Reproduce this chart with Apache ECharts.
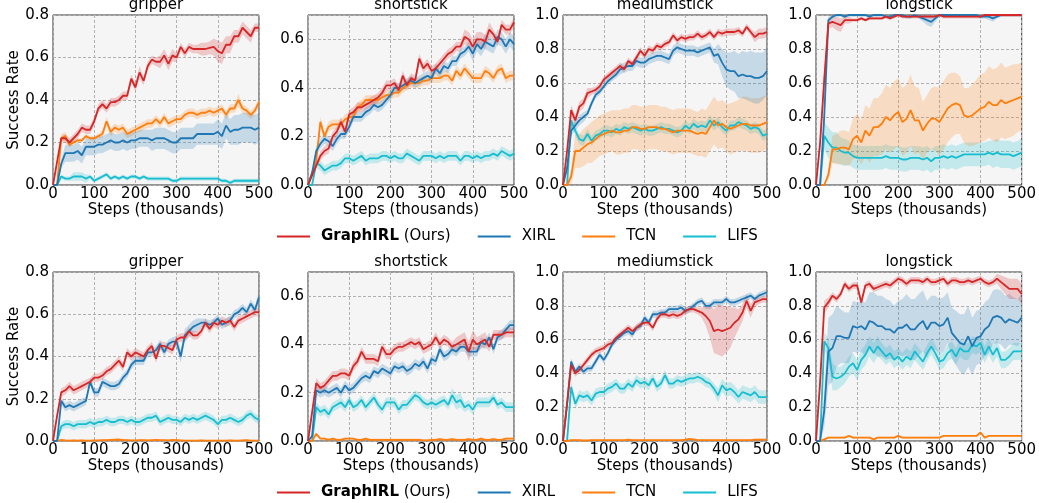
<!DOCTYPE html>
<html>
<head>
<meta charset="utf-8">
<script src="https://cdn.jsdelivr.net/npm/echarts@6/dist/echarts.min.js"></script>
<style>
html, body { margin: 0; padding: 0; background: #fff; }
#chart { width: 1039px; height: 503px; }
</style>
</head>
<body>
<div id="chart"></div>
<script>
// x values (thousands of steps)
var steps = [0,10,20,30,40,50,60,70,80,90,100,110,120,130,140,150,160,170,180,190,200,210,220,230,240,250,260,270,280,290,300,310,320,330,340,350,360,370,380,390,400,410,420,430,440,450,460,470,480,490,500];

// ---- top row ----
var topGripperGraphirl = [0,0.11,0.22,0.22,0.20,0.22,0.24,0.27,0.26,0.26,0.30,0.36,0.38,0.36,0.39,0.39,0.40,0.42,0.42,0.50,0.46,0.53,0.49,0.56,0.59,0.58,0.58,0.61,0.57,0.61,0.60,0.65,0.62,0.65,0.64,0.64,0.64,0.64,0.645,0.65,0.63,0.62,0.66,0.66,0.70,0.70,0.74,0.72,0.70,0.74,0.74];
var topGripperGraphirlSd = [0,0.01,0.01,0.02,0.02,0.02,0.02,0.02,0.02,0.02,0.02,0.02,0.02,0.02,0.02,0.02,0.02,0.02,0.02,0.02,0.02,0.03,0.02,0.02,0.02,0.02,0.03,0.03,0.03,0.03,0.02,0.02,0.02,0.02,0.02,0.02,0.03,0.03,0.03,0.04,0.05,0.05,0.04,0.04,0.03,0.03,0.03,0.03,0.03,0.02,0.02];
var topGripperXirl = [0,0,0.10,0.15,0.15,0.15,0.16,0.14,0.18,0.18,0.18,0.19,0.19,0.20,0.21,0.20,0.20,0.21,0.20,0.21,0.21,0.22,0.22,0.22,0.21,0.22,0.22,0.22,0.21,0.20,0.20,0.22,0.22,0.22,0.22,0.24,0.24,0.24,0.24,0.24,0.25,0.23,0.28,0.25,0.26,0.26,0.27,0.27,0.27,0.26,0.27];
var topGripperXirlSd = [0,0,0.02,0.04,0.04,0.04,0.04,0.04,0.04,0.04,0.04,0.04,0.04,0.04,0.04,0.04,0.04,0.04,0.04,0.04,0.04,0.04,0.04,0.04,0.05,0.05,0.05,0.05,0.05,0.05,0.05,0.05,0.05,0.05,0.05,0.05,0.05,0.05,0.05,0.05,0.06,0.06,0.06,0.06,0.07,0.07,0.07,0.07,0.07,0.07,0.07];
var topGripperTcn = [0,0,0.22,0.23,0.19,0.20,0.21,0.21,0.23,0.22,0.22,0.23,0.24,0.30,0.25,0.27,0.26,0.27,0.24,0.25,0.26,0.27,0.28,0.29,0.29,0.31,0.29,0.32,0.29,0.30,0.31,0.31,0.33,0.34,0.34,0.33,0.34,0.34,0.35,0.34,0.35,0.36,0.33,0.36,0.36,0.40,0.36,0.35,0.33,0.35,0.39];
var topGripperTcnSd = [0,0,0.02,0.02,0.01,0.01,0.01,0.01,0.01,0.01,0.01,0.01,0.02,0.02,0.02,0.02,0.02,0.02,0.02,0.02,0.02,0.02,0.02,0.02,0.02,0.02,0.02,0.02,0.02,0.02,0.02,0.02,0.02,0.02,0.02,0.02,0.02,0.02,0.02,0.02,0.02,0.02,0.02,0.02,0.02,0.03,0.02,0.02,0.02,0.02,0.02];
var topGripperLifs = [0,0,0.04,0.03,0.03,0.04,0.04,0.04,0.03,0.04,0.02,0.03,0.04,0.05,0.03,0.04,0.03,0.04,0.03,0.04,0.04,0.03,0.04,0.03,0.03,0.03,0.03,0.03,0.03,0.02,0.02,0.03,0.03,0.03,0.03,0.03,0.03,0.03,0.03,0.03,0.03,0.02,0.02,0.01,0.02,0.02,0.02,0.02,0.02,0.02,0.02];
var topGripperLifsSd = [0,0,0.01,0.01,0.01,0.02,0.02,0.02,0.02,0.01,0.01,0.01,0.01,0.01,0.01,0.01,0.01,0.01,0.01,0.01,0.01,0.01,0.01,0.01,0.01,0.01,0.01,0.01,0.01,0.01,0.01,0.01,0.01,0.01,0.01,0.01,0.01,0.01,0.01,0.01,0.01,0.01,0.01,0.01,0.01,0.01,0.01,0.01,0.01,0.01,0.01];

var topShortGraphirl = [0,0.04,0.08,0.12,0.14,0.15,0.20,0.22,0.26,0.22,0.29,0.30,0.32,0.32,0.33,0.34,0.35,0.36,0.38,0.41,0.41,0.42,0.39,0.45,0.41,0.44,0.43,0.52,0.48,0.50,0.47,0.48,0.50,0.52,0.54,0.55,0.57,0.57,0.61,0.60,0.57,0.60,0.60,0.59,0.64,0.62,0.59,0.66,0.64,0.64,0.67];
var topShortGraphirlSd = [0,0.01,0.01,0.02,0.02,0.02,0.02,0.02,0.02,0.02,0.02,0.02,0.02,0.02,0.02,0.02,0.02,0.02,0.02,0.02,0.02,0.02,0.02,0.02,0.02,0.02,0.02,0.02,0.02,0.02,0.02,0.02,0.02,0.02,0.02,0.02,0.02,0.02,0.03,0.03,0.03,0.03,0.03,0.03,0.03,0.02,0.02,0.02,0.02,0.02,0.02];
var topShortXirl = [0,0.05,0.14,0.17,0.19,0.18,0.16,0.19,0.21,0.21,0.24,0.28,0.28,0.28,0.30,0.31,0.33,0.32,0.33,0.35,0.37,0.40,0.40,0.41,0.42,0.43,0.42,0.43,0.44,0.45,0.44,0.48,0.46,0.49,0.48,0.51,0.51,0.54,0.55,0.57,0.54,0.58,0.56,0.59,0.58,0.57,0.61,0.60,0.57,0.60,0.58];
var topShortXirlSd = [0,0.01,0.02,0.02,0.02,0.02,0.02,0.02,0.02,0.02,0.02,0.02,0.02,0.02,0.02,0.02,0.02,0.02,0.02,0.02,0.02,0.02,0.02,0.02,0.02,0.02,0.02,0.02,0.02,0.02,0.02,0.02,0.02,0.02,0.02,0.02,0.02,0.02,0.02,0.02,0.03,0.03,0.03,0.03,0.03,0.03,0.03,0.03,0.03,0.03,0.03];
var topShortTcn = [0,0.05,0.10,0.26,0.20,0.24,0.25,0.25,0.25,0.27,0.28,0.28,0.32,0.33,0.35,0.35,0.35,0.35,0.36,0.37,0.37,0.38,0.38,0.40,0.41,0.42,0.42,0.42,0.43,0.43,0.44,0.44,0.44,0.45,0.45,0.43,0.47,0.45,0.48,0.46,0.44,0.44,0.44,0.47,0.46,0.44,0.47,0.48,0.44,0.45,0.45];
var topShortTcnSd = [0,0.01,0.02,0.02,0.02,0.02,0.02,0.02,0.02,0.02,0.02,0.02,0.02,0.02,0.02,0.02,0.02,0.02,0.02,0.02,0.02,0.02,0.02,0.02,0.02,0.02,0.02,0.02,0.02,0.02,0.02,0.02,0.02,0.02,0.02,0.02,0.02,0.02,0.02,0.02,0.02,0.02,0.02,0.02,0.02,0.02,0.02,0.02,0.02,0.02,0.02];
var topShortLifs = [0,0,0.09,0.08,0.06,0.07,0.08,0.08,0.09,0.11,0.11,0.10,0.11,0.12,0.10,0.11,0.11,0.11,0.12,0.12,0.11,0.12,0.11,0.11,0.13,0.12,0.11,0.10,0.12,0.12,0.12,0.11,0.12,0.11,0.12,0.12,0.12,0.10,0.12,0.12,0.11,0.12,0.11,0.12,0.12,0.13,0.12,0.14,0.13,0.12,0.13];
var topShortLifsSd = [0,0,0.02,0.02,0.02,0.02,0.02,0.02,0.02,0.02,0.02,0.02,0.02,0.02,0.02,0.02,0.02,0.02,0.02,0.02,0.02,0.02,0.02,0.02,0.02,0.02,0.02,0.02,0.02,0.02,0.02,0.02,0.02,0.02,0.02,0.02,0.02,0.02,0.02,0.02,0.02,0.02,0.02,0.02,0.02,0.02,0.02,0.02,0.02,0.02,0.02];

var topMediumGraphirl = [0,0.20,0.44,0.38,0.46,0.48,0.54,0.55,0.56,0.58,0.62,0.64,0.66,0.68,0.70,0.68,0.73,0.71,0.75,0.79,0.76,0.80,0.79,0.82,0.81,0.83,0.84,0.88,0.85,0.87,0.86,0.87,0.87,0.89,0.87,0.88,0.90,0.87,0.90,0.89,0.90,0.90,0.90,0.91,0.89,0.93,0.90,0.87,0.89,0.89,0.90];
var topMediumGraphirlSd = [0,0.02,0.03,0.03,0.03,0.03,0.03,0.02,0.02,0.02,0.02,0.02,0.02,0.02,0.02,0.02,0.02,0.02,0.02,0.02,0.02,0.02,0.02,0.02,0.02,0.02,0.02,0.02,0.02,0.02,0.02,0.02,0.02,0.02,0.02,0.02,0.02,0.02,0.02,0.02,0.02,0.02,0.02,0.02,0.02,0.02,0.02,0.03,0.03,0.03,0.03];
var topMediumXirl = [0,0.10,0.32,0.35,0.38,0.40,0.42,0.48,0.53,0.55,0.58,0.61,0.63,0.65,0.68,0.69,0.70,0.70,0.73,0.72,0.72,0.74,0.75,0.76,0.76,0.75,0.74,0.79,0.81,0.80,0.79,0.79,0.79,0.78,0.79,0.80,0.81,0.76,0.77,0.72,0.68,0.67,0.67,0.64,0.65,0.64,0.64,0.63,0.63,0.64,0.67];
var topMediumXirlSd = [0,0.02,0.03,0.03,0.03,0.03,0.02,0.02,0.02,0.02,0.02,0.02,0.02,0.02,0.03,0.03,0.03,0.03,0.03,0.03,0.03,0.03,0.03,0.03,0.03,0.03,0.03,0.03,0.03,0.03,0.03,0.03,0.03,0.03,0.03,0.03,0.03,0.04,0.06,0.08,0.10,0.11,0.12,0.13,0.14,0.14,0.15,0.15,0.15,0.14,0.14];
var topMediumTcn = [0,0,0.05,0.20,0.20,0.22,0.24,0.25,0.27,0.29,0.30,0.31,0.32,0.31,0.31,0.32,0.32,0.34,0.34,0.33,0.33,0.34,0.34,0.34,0.33,0.33,0.32,0.31,0.32,0.32,0.32,0.32,0.31,0.30,0.31,0.30,0.34,0.38,0.35,0.36,0.34,0.33,0.34,0.35,0.36,0.36,0.35,0.35,0.35,0.36,0.37];
var topMediumTcnSd = [0,0,0.05,0.10,0.10,0.11,0.11,0.12,0.12,0.12,0.12,0.12,0.12,0.13,0.13,0.13,0.13,0.13,0.13,0.13,0.13,0.13,0.13,0.13,0.13,0.13,0.13,0.13,0.13,0.13,0.13,0.13,0.13,0.13,0.14,0.14,0.14,0.14,0.14,0.14,0.14,0.15,0.15,0.15,0.16,0.16,0.16,0.16,0.16,0.16,0.16];
var topMediumLifs = [0,0,0.38,0.32,0.27,0.26,0.30,0.26,0.29,0.30,0.32,0.32,0.31,0.33,0.32,0.34,0.33,0.34,0.33,0.32,0.33,0.32,0.32,0.33,0.34,0.33,0.33,0.32,0.31,0.32,0.35,0.33,0.36,0.34,0.35,0.34,0.38,0.35,0.37,0.34,0.32,0.35,0.35,0.37,0.36,0.35,0.33,0.34,0.33,0.29,0.30];
var topMediumLifsSd = [0,0,0.03,0.03,0.03,0.03,0.03,0.03,0.03,0.03,0.03,0.03,0.03,0.03,0.03,0.03,0.03,0.03,0.03,0.03,0.03,0.03,0.03,0.03,0.03,0.03,0.03,0.03,0.03,0.03,0.03,0.03,0.03,0.03,0.03,0.03,0.03,0.03,0.03,0.03,0.03,0.03,0.03,0.03,0.03,0.03,0.03,0.03,0.03,0.03,0.03];

var topLongGraphirl = [0,0.25,0.62,0.95,0.96,0.95,0.94,0.97,0.97,0.97,0.97,0.98,0.97,0.98,0.98,0.98,0.98,0.99,0.98,0.99,1.0,0.99,0.99,0.99,0.99,0.99,0.99,0.99,0.99,0.99,1.0,0.99,0.99,0.99,0.99,0.99,0.99,0.99,0.99,0.99,0.99,1.0,1.0,1.0,1.0,1.0,1.0,1.0,1.0,1.0,1.0];
var topLongGraphirlSd = [0,0.05,0.06,0.03,0.03,0.04,0.04,0.02,0.02,0.01,0.01,0.01,0.01,0.01,0.01,0.01,0.01,0.01,0.01,0.01,0.01,0.01,0.01,0.01,0.01,0.01,0.01,0.01,0.01,0.01,0.01,0.01,0.01,0.01,0.01,0.01,0.01,0.01,0.01,0.01,0.01,0.01,0.01,0.01,0.01,0.01,0.01,0.01,0.01,0.01,0.01];
var topLongXirl = [0,0,0.40,0.97,0.99,1.0,1.0,0.99,1.0,1.0,1.0,1.0,1.0,0.99,1.0,1.0,1.0,0.99,0.99,1.0,1.0,1.0,0.99,0.99,1.0,0.99,0.98,0.97,0.96,0.98,1.0,1.0,1.0,1.0,1.0,1.0,1.0,1.0,1.0,1.0,0.99,0.99,0.99,0.98,0.99,1.0,1.0,1.0,1.0,1.0,1.0];
var topLongXirlSd = [0,0,0.05,0.02,0.01,0.01,0.01,0.01,0.01,0.01,0.01,0.01,0.01,0.01,0.01,0.01,0.01,0.01,0.01,0.01,0.01,0.01,0.01,0.01,0.01,0.01,0.02,0.03,0.03,0.02,0.01,0.01,0.01,0.01,0.01,0.01,0.01,0.01,0.01,0.01,0.01,0.01,0.02,0.02,0.01,0.01,0.01,0.01,0.01,0.01,0.01];
var topLongTcn = [0,0,0,0.06,0.21,0.21,0.22,0.22,0.21,0.27,0.29,0.25,0.32,0.29,0.34,0.34,0.36,0.40,0.38,0.41,0.43,0.37,0.39,0.44,0.38,0.38,0.32,0.36,0.39,0.39,0.37,0.41,0.45,0.47,0.48,0.47,0.41,0.40,0.41,0.43,0.45,0.46,0.49,0.47,0.47,0.50,0.48,0.49,0.50,0.51,0.52];
var topLongTcnSd = [0,0,0,0.03,0.08,0.09,0.10,0.10,0.10,0.12,0.13,0.13,0.15,0.16,0.17,0.17,0.18,0.19,0.19,0.20,0.20,0.20,0.20,0.21,0.20,0.19,0.17,0.17,0.18,0.19,0.20,0.20,0.20,0.19,0.18,0.17,0.16,0.17,0.18,0.19,0.20,0.20,0.21,0.21,0.22,0.22,0.21,0.21,0.21,0.20,0.20];
var topLongLifs = [0,0,0.29,0.25,0.22,0.22,0.20,0.19,0.19,0.17,0.16,0.16,0.16,0.16,0.16,0.16,0.16,0.17,0.16,0.16,0.16,0.15,0.15,0.16,0.16,0.16,0.15,0.16,0.14,0.16,0.16,0.17,0.16,0.17,0.16,0.17,0.18,0.18,0.18,0.18,0.18,0.18,0.19,0.18,0.19,0.18,0.18,0.18,0.17,0.18,0.19];
var topLongLifsSd = [0,0,0.08,0.09,0.09,0.09,0.08,0.08,0.07,0.07,0.07,0.07,0.07,0.07,0.07,0.07,0.07,0.07,0.07,0.07,0.07,0.07,0.07,0.07,0.07,0.07,0.07,0.07,0.07,0.07,0.07,0.07,0.07,0.07,0.07,0.07,0.07,0.07,0.07,0.07,0.07,0.07,0.07,0.08,0.08,0.08,0.08,0.08,0.08,0.08,0.08];

// ---- bottom row ----
var botGripperGraphirl = [0,0.12,0.23,0.24,0.26,0.24,0.25,0.26,0.27,0.28,0.30,0.30,0.31,0.33,0.34,0.36,0.38,0.35,0.42,0.40,0.42,0.41,0.40,0.43,0.45,0.39,0.45,0.45,0.44,0.43,0.48,0.49,0.49,0.52,0.50,0.50,0.52,0.56,0.53,0.56,0.55,0.57,0.56,0.57,0.54,0.57,0.58,0.59,0.60,0.61,0.61];
var botGripperGraphirlSd = [0,0.01,0.02,0.02,0.02,0.02,0.02,0.02,0.02,0.02,0.02,0.02,0.02,0.02,0.02,0.02,0.02,0.02,0.02,0.02,0.02,0.02,0.02,0.02,0.02,0.02,0.02,0.02,0.02,0.02,0.02,0.02,0.02,0.02,0.02,0.02,0.02,0.02,0.02,0.02,0.02,0.02,0.02,0.02,0.02,0.02,0.02,0.02,0.02,0.02,0.02];
var botGripperXirl = [0,0,0.19,0.16,0.17,0.16,0.17,0.18,0.19,0.28,0.23,0.23,0.28,0.27,0.26,0.26,0.27,0.30,0.32,0.36,0.38,0.38,0.38,0.42,0.42,0.43,0.46,0.42,0.46,0.47,0.47,0.40,0.50,0.52,0.54,0.55,0.56,0.56,0.55,0.56,0.58,0.55,0.56,0.57,0.60,0.61,0.63,0.61,0.65,0.62,0.68];
var botGripperXirlSd = [0,0,0.02,0.02,0.02,0.02,0.02,0.02,0.02,0.02,0.02,0.02,0.02,0.02,0.02,0.02,0.02,0.02,0.02,0.02,0.02,0.02,0.02,0.02,0.02,0.02,0.02,0.02,0.02,0.02,0.03,0.03,0.03,0.03,0.03,0.03,0.02,0.02,0.02,0.02,0.02,0.02,0.02,0.02,0.02,0.02,0.02,0.02,0.02,0.02,0.03];
var botGripperTcn = [0,0,0.005,0.003,0.002,0.003,0.002,0.003,0.002,0.002,0.003,0.003,0.004,0.004,0.005,0.006,0.007,0.005,0.004,0.003,0.003,0.004,0.004,0.003,0.004,0.005,0.004,0.004,0.003,0.005,0.004,0.003,0.002,0.002,0.002,0.002,0.003,0.002,0.002,0.002,0.002,0.002,0.002,0.003,0.002,0.002,0.003,0.004,0.002,0.002,0.002];
var botGripperTcnSd = [0,0,0.004,0.004,0.004,0.004,0.004,0.004,0.004,0.004,0.004,0.004,0.004,0.004,0.004,0.004,0.004,0.004,0.004,0.004,0.004,0.004,0.004,0.004,0.004,0.004,0.004,0.004,0.004,0.004,0.004,0.004,0.004,0.004,0.004,0.004,0.004,0.004,0.004,0.004,0.004,0.004,0.004,0.004,0.004,0.004,0.004,0.004,0.004,0.004,0.004];
var botGripperLifs = [0,0,0.07,0.08,0.08,0.07,0.08,0.08,0.08,0.09,0.08,0.09,0.09,0.10,0.09,0.09,0.10,0.10,0.09,0.10,0.09,0.09,0.10,0.11,0.11,0.12,0.09,0.10,0.11,0.10,0.10,0.09,0.11,0.10,0.11,0.10,0.11,0.12,0.11,0.10,0.08,0.10,0.10,0.11,0.10,0.09,0.10,0.12,0.13,0.11,0.10];
var botGripperLifsSd = [0,0,0.02,0.02,0.02,0.02,0.02,0.02,0.02,0.02,0.02,0.02,0.02,0.02,0.02,0.02,0.02,0.02,0.02,0.02,0.02,0.02,0.02,0.02,0.02,0.02,0.02,0.02,0.02,0.02,0.02,0.02,0.02,0.02,0.02,0.02,0.02,0.02,0.02,0.02,0.02,0.02,0.02,0.02,0.02,0.02,0.02,0.02,0.02,0.02,0.02];

var botShortGraphirl = [0,0.12,0.24,0.22,0.23,0.25,0.27,0.27,0.28,0.28,0.27,0.31,0.33,0.37,0.34,0.34,0.34,0.33,0.39,0.36,0.36,0.38,0.39,0.39,0.40,0.41,0.40,0.41,0.38,0.39,0.40,0.43,0.40,0.42,0.41,0.39,0.40,0.41,0.42,0.37,0.42,0.40,0.41,0.42,0.39,0.44,0.44,0.44,0.45,0.45,0.45];
var botShortGraphirlSd = [0,0.01,0.02,0.02,0.02,0.02,0.02,0.02,0.02,0.02,0.02,0.02,0.02,0.02,0.02,0.02,0.02,0.02,0.02,0.02,0.02,0.02,0.02,0.02,0.02,0.02,0.02,0.02,0.02,0.02,0.02,0.02,0.02,0.02,0.02,0.02,0.03,0.03,0.03,0.04,0.04,0.03,0.03,0.03,0.02,0.02,0.02,0.02,0.02,0.02,0.02];
var botShortXirl = [0,0.02,0.21,0.20,0.21,0.20,0.21,0.22,0.20,0.23,0.21,0.22,0.24,0.26,0.27,0.26,0.29,0.28,0.30,0.29,0.28,0.31,0.30,0.31,0.29,0.30,0.32,0.31,0.33,0.30,0.34,0.33,0.38,0.35,0.36,0.38,0.37,0.39,0.39,0.37,0.37,0.37,0.41,0.40,0.43,0.38,0.43,0.44,0.46,0.48,0.48];
var botShortXirlSd = [0,0.01,0.02,0.02,0.02,0.02,0.02,0.02,0.02,0.02,0.02,0.02,0.02,0.02,0.02,0.02,0.02,0.02,0.02,0.02,0.02,0.02,0.02,0.02,0.02,0.02,0.02,0.02,0.02,0.02,0.02,0.02,0.02,0.02,0.02,0.02,0.02,0.02,0.02,0.02,0.02,0.02,0.02,0.02,0.02,0.02,0.02,0.02,0.02,0.02,0.02];
var botShortTcn = [0,0,0.03,0.01,0.01,0.005,0.01,0.005,0.005,0.01,0.01,0.01,0.005,0.005,0.01,0.005,0.005,0.005,0.005,0.005,0.005,0.005,0.005,0.005,0.005,0.005,0.005,0.005,0.003,0.003,0.005,0.005,0.008,0.005,0.005,0.008,0.005,0.005,0.005,0.008,0.005,0.005,0.01,0.005,0.005,0.008,0.005,0.005,0.01,0.01,0.01];
var botShortTcnSd = [0,0,0.005,0.005,0.005,0.005,0.005,0.005,0.005,0.005,0.005,0.005,0.005,0.005,0.005,0.005,0.005,0.005,0.005,0.005,0.005,0.005,0.005,0.005,0.005,0.005,0.005,0.005,0.005,0.005,0.005,0.005,0.005,0.005,0.005,0.005,0.005,0.005,0.005,0.005,0.005,0.005,0.005,0.005,0.005,0.005,0.005,0.005,0.005,0.005,0.005];
var botShortLifs = [0,0,0.14,0.12,0.13,0.11,0.14,0.15,0.16,0.14,0.17,0.14,0.15,0.17,0.14,0.16,0.18,0.15,0.13,0.16,0.16,0.16,0.13,0.15,0.15,0.17,0.19,0.18,0.16,0.15,0.16,0.15,0.16,0.17,0.15,0.19,0.16,0.17,0.14,0.15,0.13,0.16,0.16,0.16,0.16,0.18,0.15,0.16,0.14,0.14,0.14];
var botShortLifsSd = [0,0,0.02,0.02,0.02,0.02,0.02,0.02,0.02,0.02,0.02,0.02,0.02,0.02,0.02,0.02,0.02,0.02,0.02,0.02,0.02,0.02,0.02,0.02,0.02,0.02,0.02,0.02,0.02,0.02,0.02,0.02,0.02,0.02,0.02,0.03,0.03,0.03,0.02,0.02,0.02,0.02,0.02,0.02,0.02,0.02,0.02,0.02,0.02,0.02,0.02];

var botMediumGraphirl = [0,0.22,0.45,0.40,0.42,0.45,0.48,0.51,0.53,0.54,0.55,0.57,0.58,0.61,0.63,0.65,0.67,0.65,0.67,0.69,0.70,0.70,0.67,0.72,0.75,0.75,0.74,0.75,0.74,0.75,0.77,0.78,0.78,0.77,0.76,0.74,0.71,0.65,0.66,0.65,0.66,0.67,0.70,0.72,0.76,0.83,0.77,0.82,0.83,0.84,0.84];
var botMediumGraphirlSd = [0,0.02,0.03,0.02,0.02,0.02,0.02,0.02,0.02,0.02,0.02,0.02,0.02,0.02,0.02,0.02,0.02,0.02,0.02,0.02,0.02,0.02,0.02,0.02,0.02,0.02,0.02,0.02,0.02,0.02,0.02,0.02,0.02,0.02,0.03,0.06,0.10,0.13,0.15,0.15,0.14,0.12,0.09,0.06,0.05,0.04,0.04,0.03,0.02,0.02,0.02];
var botMediumXirl = [0,0.22,0.47,0.41,0.44,0.41,0.43,0.43,0.47,0.51,0.48,0.52,0.57,0.60,0.62,0.64,0.65,0.63,0.67,0.68,0.73,0.70,0.75,0.75,0.76,0.76,0.78,0.78,0.78,0.79,0.77,0.78,0.80,0.82,0.83,0.80,0.80,0.82,0.82,0.82,0.84,0.82,0.82,0.83,0.84,0.85,0.86,0.84,0.86,0.87,0.88];
var botMediumXirlSd = [0,0.02,0.02,0.02,0.02,0.02,0.02,0.02,0.02,0.02,0.02,0.02,0.02,0.02,0.02,0.02,0.02,0.02,0.02,0.02,0.02,0.02,0.02,0.02,0.02,0.02,0.02,0.02,0.02,0.02,0.02,0.02,0.02,0.02,0.02,0.02,0.02,0.02,0.02,0.02,0.02,0.02,0.02,0.02,0.02,0.02,0.02,0.02,0.02,0.02,0.02];
var botMediumTcn = [0,0,0.005,0.005,0.005,0.003,0.003,0.005,0.005,0.005,0.005,0.005,0.005,0.005,0.005,0.005,0.008,0.005,0.005,0.005,0.005,0.005,0.005,0.005,0.005,0.005,0.005,0.005,0.005,0.005,0.008,0.012,0.01,0.005,0.005,0.005,0.005,0.005,0.005,0.005,0.005,0.005,0.005,0.005,0.005,0.005,0.005,0.008,0.008,0.008,0.008];
var botMediumTcnSd = [0,0,0.005,0.005,0.005,0.005,0.005,0.005,0.005,0.005,0.005,0.005,0.005,0.005,0.005,0.005,0.005,0.005,0.005,0.005,0.005,0.005,0.005,0.005,0.005,0.005,0.005,0.005,0.005,0.005,0.005,0.005,0.005,0.005,0.005,0.005,0.005,0.005,0.005,0.005,0.005,0.005,0.005,0.005,0.005,0.005,0.005,0.005,0.005,0.005,0.005];
var botMediumLifs = [0,0,0.32,0.22,0.27,0.26,0.27,0.24,0.28,0.29,0.29,0.31,0.32,0.34,0.31,0.31,0.34,0.32,0.36,0.34,0.35,0.33,0.37,0.32,0.34,0.39,0.34,0.34,0.36,0.35,0.36,0.37,0.37,0.38,0.37,0.35,0.34,0.31,0.27,0.33,0.30,0.31,0.29,0.26,0.29,0.28,0.27,0.29,0.26,0.26,0.26];
var botMediumLifsSd = [0,0,0.03,0.03,0.03,0.03,0.03,0.03,0.03,0.03,0.03,0.03,0.03,0.03,0.03,0.03,0.03,0.03,0.03,0.03,0.03,0.03,0.03,0.03,0.03,0.03,0.03,0.03,0.03,0.03,0.03,0.03,0.03,0.03,0.03,0.03,0.03,0.03,0.04,0.04,0.04,0.04,0.04,0.04,0.04,0.04,0.04,0.04,0.04,0.04,0.04];

var botLongGraphirl = [0,0.35,0.79,0.82,0.86,0.84,0.87,0.93,0.90,0.92,0.92,0.82,0.92,0.93,0.90,0.91,0.92,0.93,0.92,0.94,0.96,0.95,0.93,0.95,0.95,0.95,0.94,0.96,0.94,0.94,0.95,0.96,0.93,0.95,0.95,0.94,0.94,0.95,0.94,0.95,0.96,0.94,0.93,0.94,0.96,0.94,0.92,0.90,0.90,0.90,0.87];
var botLongGraphirlSd = [0,0.05,0.04,0.03,0.02,0.02,0.02,0.02,0.02,0.02,0.02,0.02,0.02,0.02,0.02,0.02,0.02,0.02,0.02,0.02,0.02,0.02,0.02,0.02,0.02,0.02,0.02,0.02,0.02,0.02,0.02,0.02,0.02,0.02,0.02,0.02,0.02,0.02,0.02,0.02,0.02,0.02,0.02,0.02,0.03,0.04,0.05,0.06,0.06,0.06,0.06];
var botLongXirl = [0,0,0.18,0.53,0.55,0.62,0.62,0.61,0.61,0.68,0.67,0.68,0.66,0.71,0.70,0.68,0.68,0.66,0.66,0.64,0.67,0.67,0.69,0.66,0.66,0.69,0.71,0.66,0.70,0.70,0.68,0.69,0.73,0.64,0.61,0.58,0.57,0.62,0.56,0.61,0.62,0.66,0.68,0.73,0.74,0.73,0.70,0.72,0.71,0.70,0.73];
var botLongXirlSd = [0,0,0.10,0.20,0.20,0.18,0.16,0.15,0.15,0.15,0.15,0.15,0.16,0.17,0.18,0.18,0.18,0.18,0.17,0.16,0.16,0.17,0.18,0.18,0.18,0.18,0.18,0.17,0.16,0.16,0.16,0.16,0.15,0.15,0.16,0.17,0.18,0.18,0.17,0.16,0.16,0.16,0.16,0.16,0.16,0.16,0.16,0.15,0.14,0.14,0.14];
var botLongTcn = [0,0,0.01,0.02,0.02,0.02,0.02,0.02,0.03,0.02,0.02,0.02,0.02,0.02,0.01,0.02,0.02,0.02,0.02,0.02,0.03,0.02,0.02,0.02,0.02,0.02,0.02,0.02,0.02,0.02,0.02,0.03,0.03,0.03,0.03,0.03,0.03,0.03,0.03,0.03,0.05,0.02,0.03,0.03,0.03,0.03,0.03,0.03,0.03,0.03,0.03];
var botLongTcnSd = [0,0,0.005,0.005,0.005,0.005,0.005,0.005,0.005,0.005,0.005,0.005,0.005,0.005,0.005,0.005,0.005,0.005,0.005,0.005,0.005,0.005,0.005,0.005,0.005,0.005,0.005,0.005,0.005,0.005,0.005,0.005,0.005,0.005,0.005,0.005,0.005,0.005,0.005,0.005,0.005,0.005,0.005,0.005,0.005,0.005,0.005,0.005,0.005,0.005,0.005];
var botLongLifs = [0,0,0.59,0.55,0.38,0.37,0.38,0.40,0.44,0.46,0.42,0.48,0.51,0.56,0.52,0.56,0.53,0.50,0.52,0.48,0.50,0.47,0.50,0.48,0.53,0.50,0.47,0.52,0.56,0.52,0.47,0.48,0.52,0.54,0.50,0.55,0.53,0.53,0.57,0.56,0.58,0.51,0.56,0.51,0.55,0.48,0.48,0.50,0.53,0.53,0.53];
var botLongLifsSd = [0,0,0.05,0.06,0.08,0.07,0.06,0.06,0.06,0.06,0.06,0.06,0.06,0.06,0.06,0.06,0.05,0.05,0.05,0.05,0.05,0.05,0.05,0.05,0.05,0.05,0.05,0.05,0.05,0.05,0.05,0.05,0.05,0.05,0.05,0.05,0.05,0.05,0.05,0.05,0.05,0.05,0.05,0.05,0.05,0.05,0.05,0.05,0.05,0.05,0.05];

var methods = ['GraphIRL', 'XIRL', 'TCN', 'LIFS'];
var colors = { GraphIRL: '#d62728', XIRL: '#1f77b4', TCN: '#ff7f0e', LIFS: '#17becf' };
var yTicks = [0, 0.2, 0.4, 0.6, 0.8, 1.0];

var panels = [
	{ title: 'gripper', yMax: 0.8, data: { GraphIRL: [topGripperGraphirl, topGripperGraphirlSd], XIRL: [topGripperXirl, topGripperXirlSd], TCN: [topGripperTcn, topGripperTcnSd], LIFS: [topGripperLifs, topGripperLifsSd] } },
	{ title: 'shortstick', yMax: 0.7, data: { GraphIRL: [topShortGraphirl, topShortGraphirlSd], XIRL: [topShortXirl, topShortXirlSd], TCN: [topShortTcn, topShortTcnSd], LIFS: [topShortLifs, topShortLifsSd] } },
	{ title: 'mediumstick', yMax: 1.0, data: { GraphIRL: [topMediumGraphirl, topMediumGraphirlSd], XIRL: [topMediumXirl, topMediumXirlSd], TCN: [topMediumTcn, topMediumTcnSd], LIFS: [topMediumLifs, topMediumLifsSd] } },
	{ title: 'longstick', yMax: 1.0, data: { GraphIRL: [topLongGraphirl, topLongGraphirlSd], XIRL: [topLongXirl, topLongXirlSd], TCN: [topLongTcn, topLongTcnSd], LIFS: [topLongLifs, topLongLifsSd] } },
	{ title: 'gripper', yMax: 0.8, data: { GraphIRL: [botGripperGraphirl, botGripperGraphirlSd], XIRL: [botGripperXirl, botGripperXirlSd], TCN: [botGripperTcn, botGripperTcnSd], LIFS: [botGripperLifs, botGripperLifsSd] } },
	{ title: 'shortstick', yMax: 0.7, data: { GraphIRL: [botShortGraphirl, botShortGraphirlSd], XIRL: [botShortXirl, botShortXirlSd], TCN: [botShortTcn, botShortTcnSd], LIFS: [botShortLifs, botShortLifsSd] } },
	{ title: 'mediumstick', yMax: 1.0, data: { GraphIRL: [botMediumGraphirl, botMediumGraphirlSd], XIRL: [botMediumXirl, botMediumXirlSd], TCN: [botMediumTcn, botMediumTcnSd], LIFS: [botMediumLifs, botMediumLifsSd] } },
	{ title: 'longstick', yMax: 1.0, data: { GraphIRL: [botLongGraphirl, botLongGraphirlSd], XIRL: [botLongXirl, botLongXirlSd], TCN: [botLongTcn, botLongTcnSd], LIFS: [botLongLifs, botLongLifsSd] } }
];

// layout of the 2x4 plot areas
var colLeft = [53, 308, 563, 816];
var colWidth = [206, 206, 204, 206];
var rowTop = [15, 272];
var rowHeight = [170, 169];

var font = 'DejaVu Sans';
var grids = [], xAxes = [], yAxes = [], titles = [], series = [];
var drawOrder = ['LIFS', 'TCN', 'XIRL', 'GraphIRL'];

// band polygon: upper edge left->right, lower edge right->left
function bandRenderer(band, color) {
	return function(params, api) {
		if (params.dataIndex !== 0) return null;
		var pts = [], k;
		for (k = 0; k < band.length; k++) pts.push(api.coord([band[k][0], band[k][2]]));
		for (k = band.length - 1; k >= 0; k--) pts.push(api.coord([band[k][0], band[k][1]]));
		return {
			type: 'polygon', shape: { points: pts },
			style: { fill: color, opacity: 0.22 }
		};
	};
}

panels.forEach(function(p, i) {
	var row = Math.floor(i / 4), col = i % 4;
	grids.push({
		left: colLeft[col], top: rowTop[row], width: colWidth[col], height: rowHeight[row],
		show: true, backgroundColor: '#f5f5f5', borderColor: '#333', borderWidth: 1
	});
	titles.push({
		text: p.title, left: colLeft[col] + colWidth[col] / 2, top: row === 0 ? -2 : 255,
		textAlign: 'center', padding: 0,
		textStyle: { fontSize: 15, fontWeight: 'normal', color: '#000', fontFamily: font }
	});
	xAxes.push({
		type: 'value', gridIndex: i, min: 0, max: 500, interval: 100,
		name: 'Steps (thousands)', nameLocation: 'middle', nameGap: 13,
		nameTextStyle: { fontSize: 15, color: '#000', fontFamily: font },
		axisLine: { show: false }, axisTick: { show: false },
		axisLabel: { fontSize: 15, color: '#000', margin: 2, fontFamily: font },
		splitLine: { show: true, lineStyle: { color: '#b0b0b0', type: [3, 2], width: 1 } }
	});
	yAxes.push({
		type: 'value', gridIndex: i, min: 0, max: p.yMax, interval: 0.2,
		name: col === 0 ? 'Success Rate' : '', nameLocation: 'middle', nameGap: 31,
		nameTextStyle: { fontSize: 15, color: '#000', fontFamily: font },
		axisLine: { show: false }, axisTick: { show: false },
		axisLabel: {
			fontSize: 15, color: '#000', margin: 4, fontFamily: font,
			showMaxLabel: yTicks.indexOf(p.yMax) >= 0,
			formatter: function(v) { return v.toFixed(1); }
		},
		splitLine: { show: true, lineStyle: { color: '#b0b0b0', type: [3, 2], width: 1 } }
	});

	// shaded bands (mean +/- sd), kept inside the axis range
	drawOrder.forEach(function(m) {
		var mean = p.data[m][0], sd = p.data[m][1];
		var band = steps.map(function(s, k) {
			return [s, Math.max(0, mean[k] - sd[k]), Math.min(p.yMax, mean[k] + sd[k])];
		});
		series.push({
			type: 'custom', xAxisIndex: i, yAxisIndex: i, silent: true, z: 1, clip: true,
			encode: { x: 0, y: [1, 2] }, data: band,
			renderItem: bandRenderer(band, colors[m])
		});
	});
	drawOrder.forEach(function(m) {
		series.push({
			name: m, type: 'line', xAxisIndex: i, yAxisIndex: i,
			data: steps.map(function(s, k) { return [s, p.data[m][0][k]]; }),
			symbol: 'none', lineStyle: { color: colors[m], width: 1.8 },
			itemStyle: { color: colors[m] }, z: 3
		});
	});
});

var legends = [224, 480].map(function(t) {
	return {
		top: t, left: 272, data: methods, icon: 'rect', itemWidth: 33, itemHeight: 2, itemGap: 27,
		selectedMode: false,
		textStyle: {
			fontSize: 15, color: '#000', fontFamily: font, padding: [0, 0, 0, 6],
			rich: { b: { fontWeight: 'bold', fontSize: 15, color: '#000', fontFamily: font } }
		},
		formatter: function(name) { return name === 'GraphIRL' ? '{b|GraphIRL} (Ours)' : name; }
	};
});

var chart = echarts.init(document.getElementById('chart'));
chart.setOption({
	animation: false,
	textStyle: { fontFamily: font },
	title: titles,
	legend: legends,
	grid: grids,
	xAxis: xAxes,
	yAxis: yAxes,
	series: series
});
</script>
</body>
</html>
